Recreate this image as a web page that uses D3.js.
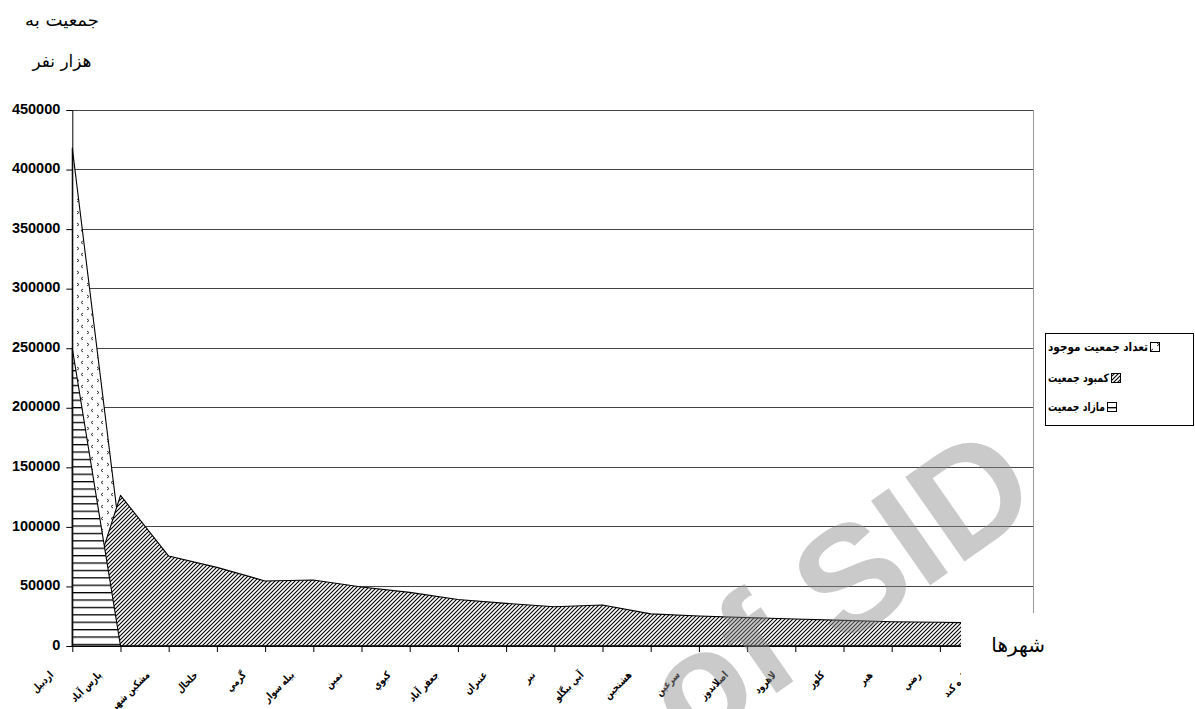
<!DOCTYPE html>
<html><head><meta charset="utf-8">
<script src="https://cdn.jsdelivr.net/npm/d3@7"></script>
<style>body{margin:0;background:#fff} svg{display:block}</style>
</head><body><svg id="c" width="1195" height="709"></svg>
<script>
// ---- data ----
const categories = ["اردبيل","پارس آباد","مشكين شهر","خلخال","گرمي","بيله سوار","نمين","كيوي","جعفر آباد","عنبران","نير","آبي بيگلو","هشتجين","سرعين","اصلاندوز","لاهرود","كلور","هير","رضي","تازه كند"];
const existing = [418000, 89000, 61300, 38500, 28000, 15000, 11000, 10000, 8000, 7000, 5000, 4500, 4000, 3800, 3500, 3200, 2500, 2200, 2000, 1500];
const deficit  = [0, 126500, 75500, 66000, 54600, 55400, 49500, 45000, 39000, 35800, 33000, 34400, 27000, 25200, 23800, 22700, 21500, 20400, 19900, 19300];
const surplus  = [250000, 0, 0, 0, 0, 0, 0, 0, 0, 0, 0, 0, 0, 0, 0, 0, 0, 0, 0, 0];
const yTicks = [0, 50000, 100000, 150000, 200000, 250000, 300000, 350000, 400000, 450000];
const seriesNames = ["تعداد جمعيت موجود", "كمبود جمعيت", "مازاد جمعيت"];
const titleLines = ["جمعيت به", "هزار نفر"];
const xTitle = "شهرها";

// ---- layout ----
const svg = d3.select('#c');
const x0 = 72.3, step = 48.2, clipX = 961, gridRight = 1033;
const x = d3.scalePoint().domain(categories).range([x0, x0 + step * (categories.length - 1)]);
const y = d3.scaleLinear().domain([0, 450000]).range([646, 110]);

const defs = svg.append('defs');
const pD = defs.append('pattern').attr('id','pDiag').attr('patternUnits','userSpaceOnUse')
  .attr('width',4).attr('height',4);
pD.append('rect').attr('width',4).attr('height',4).attr('fill','#fff');
pD.append('path').attr('d','M-1,1 L1,-1 M0,4 L4,0 M3,5 L5,3').attr('stroke','#000').attr('stroke-width',1.1);
const pH = defs.append('pattern').attr('id','pHor').attr('patternUnits','userSpaceOnUse')
  .attr('width',8).attr('height',7.4);
pH.append('rect').attr('width',8).attr('height',7.4).attr('fill','#fff');
pH.append('rect').attr('y',0).attr('width',8).attr('height',1.3).attr('fill','#000');
const pC = defs.append('pattern').attr('id','pChev').attr('patternUnits','userSpaceOnUse')
  .attr('width',10).attr('height',12);
pC.append('rect').attr('width',10).attr('height',12).attr('fill','#fff');
pC.append('path').attr('d','M3,1 L1,2.5 L3,4 M7,7 L9,8.5 L7,10').attr('stroke','#333').attr('stroke-width',1).attr('fill','none');

defs.append('clipPath').attr('id','clipPlot').append('rect')
  .attr('x',0).attr('y',0).attr('width',clipX).attr('height',709);

// gridlines
svg.append('g').selectAll('line').data(yTicks.filter(d=>d>0)).join('line')
  .attr('x1',x0).attr('x2',gridRight).attr('y1',d=>y(d)).attr('y2',d=>y(d))
  .attr('stroke','#444').attr('stroke-width',1).attr('shape-rendering','crispEdges');
svg.append('line').attr('x1',gridRight).attr('x2',gridRight).attr('y1',y(450000)).attr('y2',613)
  .attr('stroke','#999').attr('shape-rendering','crispEdges');

// areas (overlapping, later series in front)
const plot = svg.append('g').attr('clip-path','url(#clipPlot)');
const area = d3.area().x((d,i)=>x(categories[i])).y0(y(0)).y1(d=>y(d));
const series = [
  {vals: existing, fill: 'url(#pChev)'},
  {vals: deficit, fill: 'url(#pDiag)'},
  {vals: surplus, fill: 'url(#pHor)'}
];
series.forEach(s=>{
  plot.append('path').attr('d', area(s.vals)).attr('fill', s.fill)
    .attr('stroke','#000').attr('stroke-width',1.1).attr('stroke-linejoin','round');
});

// x axis
const xg = plot.append('g').attr('transform','translate(0,646)')
  .call(d3.axisBottom(x).tickSize(6).tickSizeOuter(0).tickFormat(''));
xg.select('.domain').attr('stroke','#000');
xg.selectAll('.tick line').attr('stroke','#000');
const lbl = plot.append('g').selectAll('text').data(categories).join('text')
  .attr('transform', d=>`translate(${x(d)-21},673) rotate(-45)`)
  .attr('text-anchor','end').attr('dy','0.35em')
  .attr('font-family','DejaVu Sans, sans-serif').attr('font-weight','bold').attr('font-size',10.5)
  .text(d=>d);
lbl.each(function(){ const L=this.getComputedTextLength(); d3.select(this).attr('textLength',L*0.78).attr('lengthAdjust','spacingAndGlyphs'); });

// y axis
const yg = svg.append('g').attr('transform',`translate(${x0},0)`)
  .call(d3.axisLeft(y).tickValues(yTicks).tickSize(6).tickSizeOuter(0).tickPadding(6).tickFormat(d3.format('d')));
yg.select('.domain').attr('stroke','#000');
yg.selectAll('.tick line').attr('stroke','#000');
yg.selectAll('.tick text').attr('font-family','Liberation Sans, Arial, sans-serif')
  .attr('font-weight','bold').attr('font-size',14.5).attr('dy','0.22em').attr('fill','#000');

// title
svg.append('g').selectAll('text').data(titleLines).join('text')
  .attr('x',62).attr('y',(d,i)=>i===0?26:67).attr('text-anchor','middle')
  .attr('font-family','DejaVu Sans, sans-serif').attr('font-size',17)
  .attr('textLength',(d,i)=>i===0?74:59).attr('lengthAdjust','spacingAndGlyphs').text(d=>d);
// x title
svg.append('text').attr('x',1045).attr('y',652).attr('text-anchor','end')
  .attr('font-family','DejaVu Sans, sans-serif').attr('font-size',20).text(xTitle);

// legend
const lg = svg.append('g');
lg.append('rect').attr('x',1045.5).attr('y',333.5).attr('width',148).attr('height',92)
  .attr('fill','#fff').attr('stroke','#000');
const rowsY = [347, 378, 407];
const fills = ['url(#pChev)','url(#pDiag)','url(#pHor)'];
const widths = [100, 61, 57];
seriesNames.forEach((n,i)=>{
  lg.append('text').attr('x',1048).attr('y',rowsY[i]).attr('dy','0.35em')
    .attr('font-family','DejaVu Sans, sans-serif').attr('font-weight','bold').attr('font-size',11.5)
    .attr('textLength',widths[i]).attr('lengthAdjust','spacingAndGlyphs').text(n);
  lg.append('rect').attr('x',1048+widths[i]+2.5).attr('y',rowsY[i]-4.5).attr('width',9).attr('height',9)
    .attr('fill',fills[i]).attr('stroke','#000');
});

// watermark
svg.append('text').attr('transform','translate(1045,505) rotate(-35)')
  .attr('text-anchor','end').attr('font-family','Liberation Sans, Arial, sans-serif').attr('font-weight','bold')
  .attr('font-size',150).attr('fill','#8c8c8c').attr('opacity',0.45).text('of SID');
</script></body></html>
